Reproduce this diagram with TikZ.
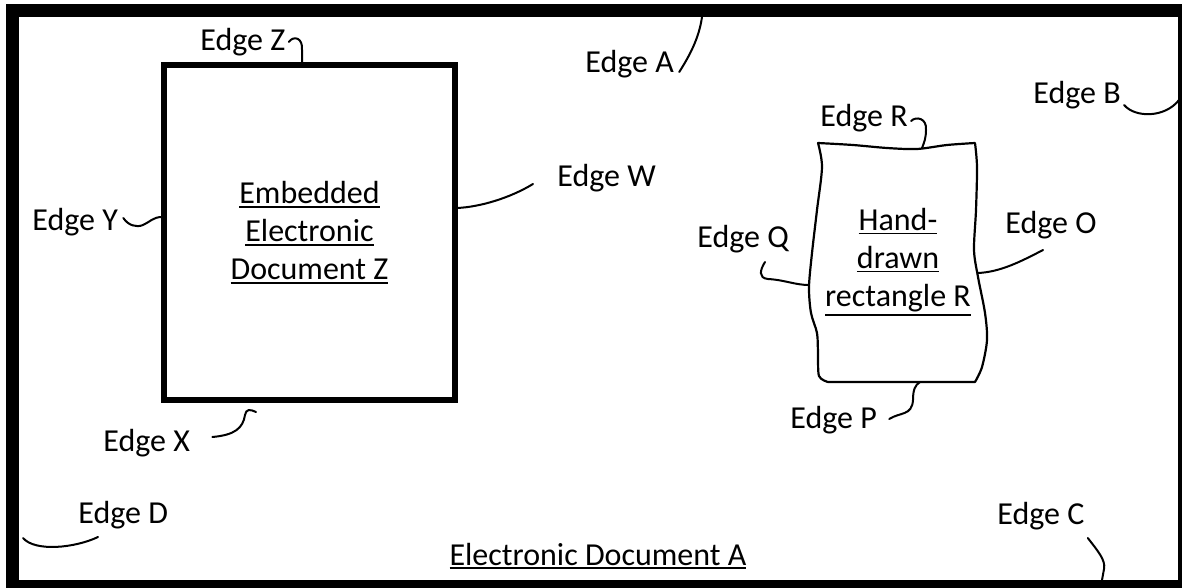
\documentclass[tikz,border=0pt]{standalone}
\usepackage{fontspec}
\setmainfont{Carlito}
\usetikzlibrary{calc}
\newcommand{\undl}[1]{\setbox0\hbox{#1}\rlap{\raisebox{-\dimexpr\dp0+1.9pt\relax}{\rule{\wd0}{0.9pt}}}\box0}
\tikzset{
  lbl/.style={anchor=base west, inner sep=0pt, font=\fontsize{16}{19}\selectfont},
  lead/.style={line width=1pt, line cap=round},
  embbox/.style={draw, line width=2.8pt, minimum width=145.5pt, minimum height=167.5pt,
    align=center, inner sep=0pt, font=\fontsize{16}{19}\selectfont},
  doctext/.style={align=center, inner sep=0pt, font=\fontsize{16}{19}\selectfont},
}
\begin{document}
\begin{tikzpicture}[x=0.5pt, y=-0.5pt]
    \useasboundingbox (0,0) rectangle (1182,588);
    \clip (0,0) rectangle (1182,588);

    % Frame of document A
    \draw[line width=6.5pt] (12.5,10.5) rectangle (1184.5,586.5);
    \node[doctext, anchor=base] (docA) at (598,565) {\undl{Electronic Document A}};

    % Embedded document Z
    \node[embbox] (docZ) at (309.5,232.5) {\undl{Embedded}\\\undl{Electronic}\\\undl{Document Z}};

    % Hand-drawn rectangle R
    \draw[line width=1.1pt, line join=round]
      plot[smooth] coordinates {(818,143) (853,145) (887,148) (917,149) (947,145) (975,143)}
      -- plot[smooth] coordinates {(975,143) (977,167) (976,210) (974,250) (978,277) (985,313) (987,340) (982,367) (975,382)}
      -- (828,382)
      -- plot[smooth] coordinates {(828,382) (819,376) (818,353) (817,333) (811,313) (809,287) (812,253) (817,210) (822,167) (818,143)}
      -- cycle;
    \node[doctext] (handR) at (898,262) {\undl{Hand-}\\\undl{drawn}\\\undl{rectangle R}};

    % Ends on the edges
    \coordinate (aTop) at (702,17);
    \coordinate (bRight) at (1179,100);
    \coordinate (cBottom) at (1102,580);
    \coordinate (zTop) at (302,64);
    \coordinate (wRight) at (457,208);
    \coordinate (yLeft) at (162,217);
    \coordinate (xEnd) at (256,412);
    \coordinate (dEnd) at (23,538);
    \coordinate (rTop) at (922,148);
    \coordinate (oRight) at (978,273);
    \coordinate (qLeft) at (809,285);
    \coordinate (pBottom) at (920,382);

    % Labels
    \node[lbl] (edgeZ) at (200,51) {Edge Z};
    \node[lbl] (edgeA) at (585,73) {Edge A};
    \node[lbl] (edgeW) at (557,187) {Edge W};
    \node[lbl] (edgeY) at (32,231) {Edge Y};
    \node[lbl] (edgeX) at (103,451) {Edge X};
    \node[lbl] (edgeD) at (78,523) {Edge D};
    \node[lbl] (edgeC) at (997,524) {Edge C};
    \node[lbl] (edgeB) at (1033,104) {Edge B};
    \node[lbl] (edgeR) at (820,127) {Edge R};
    \node[lbl] (edgeO) at (1005,234) {Edge O};
    \node[lbl] (edgeQ) at (697,248) {Edge Q};
    \node[lbl] (edgeP) at (790,428) {Edge P};

    % Leaders
    \draw[lead] ($(edgeZ.base east)+(3,-9)$) .. controls (294,35) and (303,38) .. (302,50) -- (zTop);
    \draw[lead] ($(edgeA.base east)+(5,-1)$) .. controls (690,55) and (699,38) .. (aTop);
    \draw[lead] ($(edgeB.base east)+(3,1)$) .. controls (1135,118) and (1165,118) .. (bRight);
    \draw[lead] ($(edgeW.base west)+(-24,-3)$) .. controls (510,198) and (480,207) .. (wRight);
    \draw[lead] ($(edgeY.base east)+(5,-13)$) .. controls (128,225) and (136,228) .. (143,225)
      .. controls (150,222) and (153,217) .. (yLeft);
    \draw[lead] ($(edgeX.base east)+(22,-14)$) .. controls (235,435) and (243,428) .. (245,415)
      .. controls (246,409) and (250,409) .. (xEnd);
    \draw[lead] ($(edgeD.base west)+(20,14)$) .. controls (75,548) and (35,552) .. (dEnd);
    \draw[lead] ($(edgeC.base east)+(3,14)$) .. controls (1097,550) and (1106,560) .. (1104,569) -- (cBottom);
    \draw[lead] ($(edgeR.base east)+(3,-6)$) .. controls (916,116) and (927,118) .. (926,130)
      .. controls (926,138) and (924,143) .. (rTop);
    \draw[lead] ($(edgeO.base west)+(38,16)$) .. controls (1020,262) and (1000,272) .. (oRight);
    \draw[lead] ($(edgeQ.base west)+(68,14)$) .. controls (760,270) and (758,278) .. (768,279)
      .. controls (785,280) and (795,285) .. (qLeft);
    \draw[lead] ($(edgeP.base east)+(12,-9)$) .. controls (900,412) and (912,416) .. (913,400)
      .. controls (913,390) and (915,385) .. (pBottom);
\end{tikzpicture}
\end{document}
